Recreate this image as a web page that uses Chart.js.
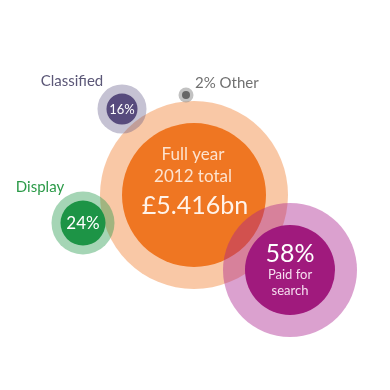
<!DOCTYPE html>
<html>
<head>
<meta charset="utf-8">
<script src="https://cdn.jsdelivr.net/npm/chart.js@4"></script>
<style>
  html, body { margin: 0; padding: 0; background: #ffffff; }
  #wrap { width: 390px; height: 390px; }
</style>
</head>
<body>
<div id="wrap"><canvas id="c" width="390" height="390"></canvas></div>
<script>
// ---- data ----
const categories = ['Paid for search', 'Display', 'Classified', 'Other'];
const shares = [58, 24, 16, 2];                 // % of total
const totalTitle = ['Full year', '2012 total'];
const totalValue = 5.416;                        // £bn

// ---- layout (chart units, 0..390 grid) ----
const segX = [290, 83, 122, 186];
const segY = [270, 223, 109, 95];
const coreR = [45, 22.5, 15.5, 4];
const haloR = [67, 31.5, 24.5, 7.5];
const totalPos = { x: 194, y: 195, core: 72, halo: 94 };

// ---- styles ----
const coreColors = ['#a01a7d', '#1d9446', '#574b7d', '#666666'];
const haloColors = ['rgba(170,30,140,0.42)', 'rgba(30,150,70,0.40)', 'rgba(90,80,130,0.35)', 'rgba(120,120,120,0.45)'];
const FONT = 'Lato, "Open Sans", sans-serif';

const totalDataset = {
  data: [
    { x: totalPos.x, y: totalPos.y, r: totalPos.halo },
    { x: totalPos.x, y: totalPos.y, r: totalPos.core }
  ],
  backgroundColor: ['rgba(240,124,42,0.42)', '#ef7622'],
  borderWidth: 0, hoverBorderWidth: 0, hoverRadius: 0, order: 3
};
const haloDataset = {
  data: categories.map((c, i) => ({ x: segX[i], y: segY[i], r: haloR[i] })),
  backgroundColor: haloColors,
  borderWidth: 0, hoverBorderWidth: 0, hoverRadius: 0, order: 2
};
const coreDataset = {
  data: categories.map((c, i) => ({ x: segX[i], y: segY[i], r: coreR[i] })),
  backgroundColor: coreColors,
  borderWidth: 0, hoverBorderWidth: 0, hoverRadius: 0, order: 1
};

const textPlugin = {
  id: 'texts',
  afterDatasetsDraw(chart) {
    const ctx = chart.ctx;
    const xs = chart.scales.x, ys = chart.scales.y;
    const px = v => xs.getPixelForValue(v);
    const py = v => ys.getPixelForValue(v);
    function t(str, x, y, size, color, align) {
      ctx.save();
      ctx.font = size + 'px ' + FONT;
      ctx.fillStyle = color;
      ctx.textAlign = align || 'center';
      ctx.textBaseline = 'alphabetic';
      ctx.fillText(str, x, y);
      ctx.restore();
    }
    // total
    const cx = px(totalPos.x), cy = py(totalPos.y);
    t(totalTitle[0], cx - 1, cy - 35, 17, '#fde3cf');
    t(totalTitle[1], cx - 1, cy - 13, 17, '#fde3cf');
    t('£' + totalValue.toFixed(3) + 'bn', cx + 1, cy + 19, 25, '#fff3ea');
    // paid for search
    let x = px(segX[0]), y = py(segY[0]);
    t(shares[0] + '%', x, y - 8, 25, '#ffffff');
    t('Paid for', x, y + 9, 13, '#f6dff0');
    t('search', x, y + 25, 13, '#f6dff0');
    // display
    x = px(segX[1]); y = py(segY[1]);
    t(shares[1] + '%', x, y + 6, 17, '#ffffff');
    t(categories[1], px(40), py(192), 15, '#2b9a48');
    // classified
    x = px(segX[2]); y = py(segY[2]);
    t(shares[2] + '%', x, y + 5, 13, '#ffffff');
    t(categories[2], px(72), py(86), 15, '#5b5777');
    // other
    t(shares[3] + '% ' + categories[3], px(195), py(88), 15, '#707070', 'left');
  }
};

new Chart(document.getElementById('c'), {
  type: 'bubble',
  data: { datasets: [totalDataset, haloDataset, coreDataset] },
  options: {
    responsive: false,
    devicePixelRatio: 1,
    animation: false,
    events: [],
    layout: { padding: 0, autoPadding: false },
    plugins: { legend: { display: false }, tooltip: { enabled: false } },
    scales: {
      x: { type: 'linear', min: 0, max: 390, display: false },
      y: { type: 'linear', min: 0, max: 390, reverse: true, display: false }
    }
  },
  plugins: [textPlugin]
});
</script>
</body>
</html>
